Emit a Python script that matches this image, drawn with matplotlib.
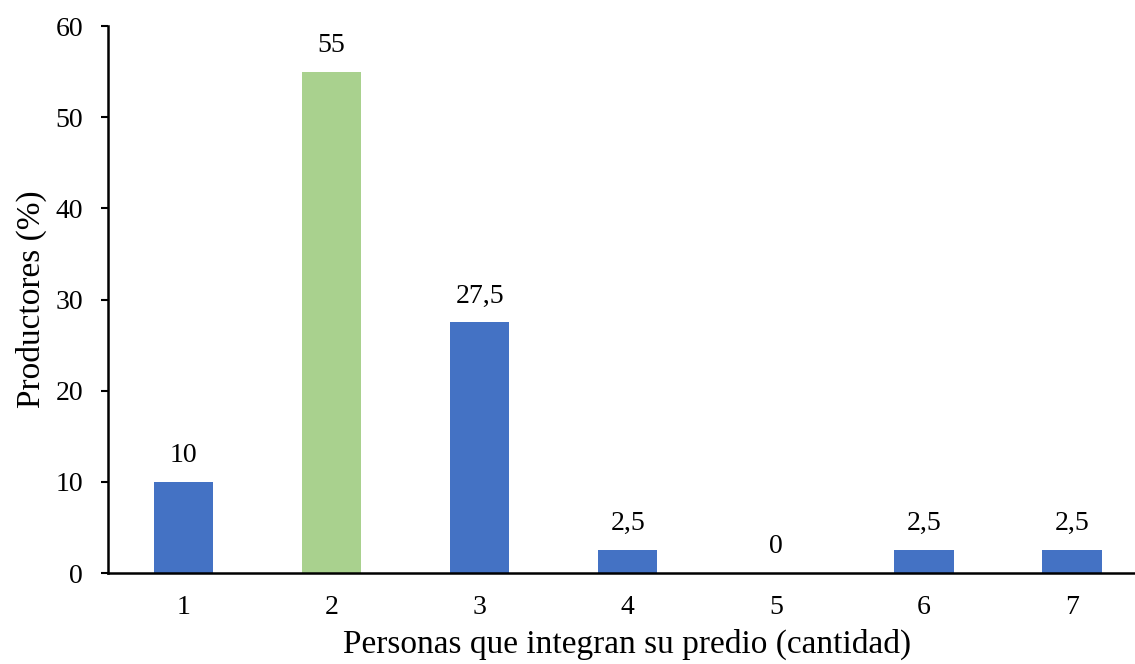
import matplotlib.pyplot as plt

# Datos: personas que integran el predio vs porcentaje de productores
personas = ['1', '2', '3', '4', '5', '6', '7']
productores = [10, 55, 27.5, 2.5, 0, 2.5, 2.5]
etiquetas = ['10', '55', '27,5', '2,5', '0', '2,5', '2,5']
colores = ['#4472C4', '#A9D18E', '#4472C4', '#4472C4', '#4472C4', '#4472C4', '#4472C4']

plt.rcParams['font.family'] = ['Liberation Serif', 'DejaVu Serif']

fig = plt.figure(figsize=(11.35, 6.64), dpi=100)
ax = fig.add_axes([0.0952, 0.137, 0.9145, 0.8238])

x = list(range(1, len(personas) + 1))
barras = ax.bar(x, productores, width=0.4, color=colores)

# Valor encima de cada barra
for barra, etiqueta in zip(barras, etiquetas):
    ax.annotate(etiqueta, (barra.get_x() + barra.get_width() / 2, barra.get_height()),
                xytext=(0, 10), textcoords='offset points',
                ha='center', va='bottom', fontsize=20)

ax.set_xlim(0.49, 7.5)
ax.set_ylim(0, 60)
ax.set_yticks(range(0, 61, 10))
ax.set_xticks(x)
ax.set_xticklabels(personas)
ax.tick_params(axis='y', direction='out', length=5, width=1.5, labelsize=20, pad=13)
ax.tick_params(axis='x', length=0, labelsize=20, pad=16)

for lado in ['top', 'right']:
    ax.spines[lado].set_visible(False)
for lado in ['left', 'bottom']:
    ax.spines[lado].set_linewidth(1.8)

ax.set_xlabel('Personas que integran su predio (cantidad)', fontsize=24, labelpad=6)
ax.set_ylabel('Productores (%)', fontsize=24, labelpad=6)

fig.savefig('out.png', dpi=100)
